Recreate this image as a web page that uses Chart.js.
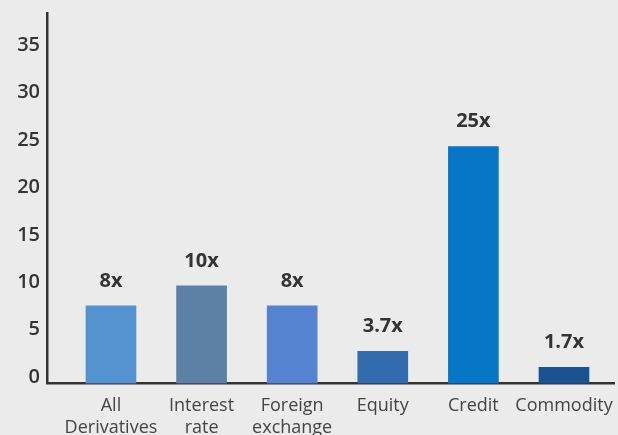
<!DOCTYPE html>
<html>
<head>
<meta charset="utf-8">
<script src="https://cdn.jsdelivr.net/npm/chart.js@4/dist/chart.umd.min.js"></script>
<style>
  html, body { margin: 0; padding: 0; background: #ebebeb; }
  canvas { display: block; }
</style>
</head>
<body>
<canvas id="c" width="618" height="435"></canvas>
<script>
const categories = [["All", "Derivatives"], ["Interest", "rate"], ["Foreign", "exchange"], ["Equity"], ["Credit"], ["Commodity"]];
const values = [8.2, 10.3, 8.2, 3.4, 25, 1.7];
const valueLabels = ["8x", "10x", "8x", "3.7x", "25x", "1.7x"];
const yTicks = [0, 5, 10, 15, 20, 25, 30, 35];

const barColors = ["#5592d0", "#5c80a6", "#5583d0", "#336baf", "#0776c6", "#1a5490"];
const FONT = "'Open Sans', sans-serif";

const bgPlugin = {
  id: 'bg',
  beforeDraw(chart) {
    const ctx = chart.ctx;
    ctx.save();
    ctx.fillStyle = '#ebebeb';
    ctx.fillRect(0, 0, chart.width, chart.height);
    ctx.restore();
  }
};

const labelPlugin = {
  id: 'valueLabels',
  afterDatasetsDraw(chart) {
    const ctx = chart.ctx;
    const meta = chart.getDatasetMeta(0);
    ctx.save();
    ctx.font = "bold 20px " + FONT;
    ctx.fillStyle = '#333333';
    ctx.textAlign = 'center';
    ctx.textBaseline = 'middle';
    meta.data.forEach((bar, i) => {
      ctx.fillText(valueLabels[i], bar.x, bar.y - 25);
    });
    ctx.restore();
  }
};

new Chart(document.getElementById('c'), {
  type: 'bar',
  data: {
    datasets: [{
      data: values.map((v, i) => ({ x: i, y: v })),
      backgroundColor: barColors,
      borderWidth: 0,
      barThickness: 50
    }]
  },
  options: {
    responsive: false,
    animation: false,
    devicePixelRatio: 1,
    layout: { padding: { top: 13, right: 4, left: 0, bottom: 0 } },
    plugins: { legend: { display: false }, tooltip: { enabled: false } },
    scales: {
      x: {
        type: 'linear',
        offset: false,
        min: -0.706,
        max: 5.552,
        afterBuildTicks(scale) { scale.ticks = categories.map((c, i) => ({ value: i })); },
        afterFit(scale) { scale.height = 51.5; scale.paddingLeft = 0; scale.paddingRight = 0; },
        grid: { display: false, drawTicks: false },
        border: { display: true, color: '#333333', width: 2.5 },
        ticks: {
          autoSkip: false,
          maxRotation: 0,
          padding: 11,
          color: '#444444',
          font: { family: FONT, size: 18, lineHeight: 1.25 },
          callback: (v) => categories[v]
        }
      },
      y: {
        min: 0,
        max: 39.1,
        afterBuildTicks(scale) { scale.ticks = yTicks.map(v => ({ value: v })); },
        afterFit(scale) { scale.width = 47; scale.paddingTop = 0; scale.paddingBottom = 0; },
        grid: { display: false, drawTicks: false },
        border: { display: true, color: '#333333', width: 2.5 },
        ticks: {
          padding: 7,
          labelOffset: -6.5,
          color: '#333333',
          font: { family: FONT, size: 20, weight: '600' }
        }
      }
    }
  },
  plugins: [bgPlugin, labelPlugin]
});
</script>
</body>
</html>
